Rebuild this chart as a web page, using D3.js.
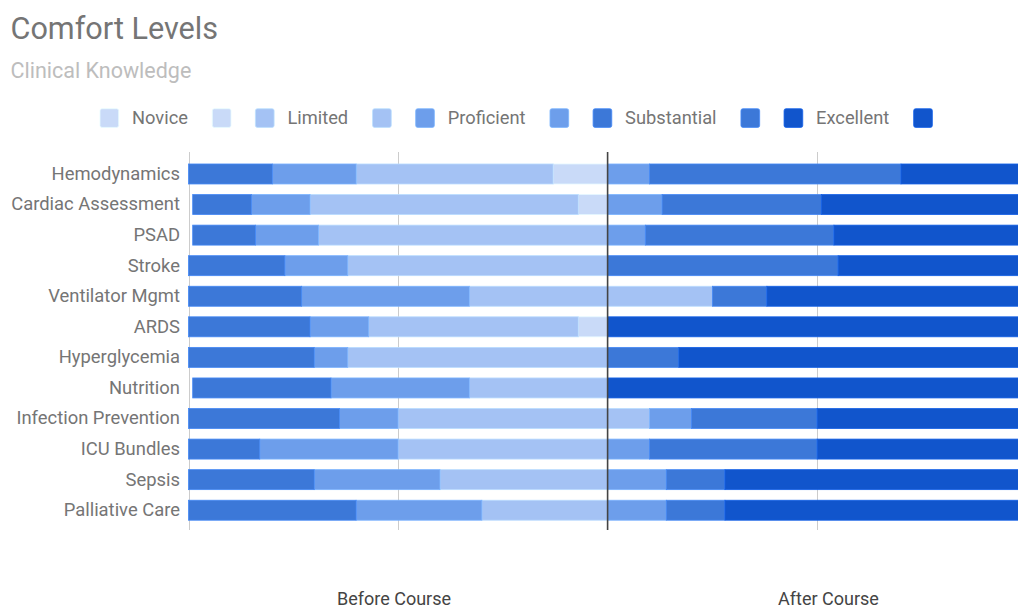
<!DOCTYPE html>
<html>
<head>
<meta charset="utf-8">
<script src="https://cdn.jsdelivr.net/npm/d3@7"></script>
<style>
  html, body { margin: 0; padding: 0; background: #fff; }
  svg { display: block; font-family: Roboto, "Noto Sans", sans-serif; }
</style>
</head>
<body>
<svg id="chart" width="1018" height="610"></svg>
<script>
// ---- Data (percentages) ----
const categories = ["Hemodynamics", "Cardiac Assessment", "PSAD", "Stroke", "Ventilator Mgmt", "ARDS",
  "Hyperglycemia", "Nutrition", "Infection Prevention", "ICU Bundles", "Sepsis", "Palliative Care"];

const levels = ["Novice", "Limited", "Proficient", "Substantial", "Excellent"];

// Before course (drawn to the left of zero)
const beforeNovice      = [13,  7,  0,  0,  0,  7,  0,  0,  0,  0,  0,  0];
const beforeLimited     = [47, 64, 69, 62, 33, 50, 62, 33, 50, 50, 40, 30];
const beforeProficient  = [20, 14, 15, 15, 40, 14,  8, 33, 14, 33, 30, 30];
const beforeSubstantial = [20, 14, 15, 23, 27, 29, 30, 33, 36, 17, 30, 40];
const beforeExcellent   = [ 0,  0,  0,  0,  0,  0,  0,  0,  0,  0,  0,  0];

// After course (drawn to the right of zero)
const afterNovice      = [ 0,  0,  0,  0,  0,  0,  0,  0,  0,  0,  0,  0];
const afterLimited     = [ 0,  0,  0,  0, 25,  0,  0,  0, 10,  0,  0,  0];
const afterProficient  = [10, 13,  9,  0,  0,  0,  0,  0, 10, 10, 14, 14];
const afterSubstantial = [60, 38, 45, 55, 13,  0, 17,  0, 30, 40, 14, 14];
const afterExcellent   = [30, 49, 46, 45, 62,100, 83,100, 50, 50, 72, 72];

const axisLabels = ["Before Course", "After Course"];
const gridTicks = [-100, -50, 50, 100];

const colors = ["#c9daf8", "#a4c2f4", "#6d9eeb", "#3c78d8", "#1155cc"];

const beforeSeries = [beforeNovice, beforeLimited, beforeProficient, beforeSubstantial, beforeExcellent];
const afterSeries  = [afterNovice, afterLimited, afterProficient, afterSubstantial, afterExcellent];

// ---- Layout ----
const svg = d3.select("#chart");
const W = 1018, H = 610;
const plotRight = 1018, plotTop = 152, plotBottom = 530;

const x = d3.scaleLinear().domain([-100, 100]).range([188.5, 1026.7]);
const y = d3.scaleBand().domain(categories).range([158.7, 525.5]).paddingInner(0.346).paddingOuter(0.173);

// Title
svg.append("text").attr("x", 10.5).attr("y", 39).attr("font-size", 30.6).attr("fill", "#757575")
  .text("Comfort Levels");
svg.append("text").attr("x", 10.5).attr("y", 78.3).attr("font-size", 21.5).attr("fill", "#bdbdbd")
  .text("Clinical Knowledge");

// Legend
const legendItems = [];
levels.forEach((l, i) => {
  legendItems.push({ label: l, color: colors[i] });
  legendItems.push({ label: "", color: colors[i] });
});
const lg = svg.append("g");
let lx = 100;
const sw = 18.7, ly = 108.7;
legendItems.forEach(item => {
  lg.append("rect").attr("x", lx).attr("y", ly).attr("width", sw).attr("height", sw)
    .attr("rx", 2).attr("fill", item.color)
    .attr("stroke", d3.color(item.color).brighter(0.4)).attr("stroke-width", 0.8);
  lx += sw;
  if (item.label) {
    const t = lg.append("text").attr("x", lx + 13.3).attr("y", ly + sw / 2).attr("dy", "0.35em")
      .attr("font-size", 18.3).attr("fill", "#757575").text(item.label);
    lx += 13.3 + t.node().getComputedTextLength();
  }
  lx += 24.4;
});

// Clip path for plot area
svg.append("clipPath").attr("id", "plotclip").append("rect")
  .attr("x", 0).attr("y", 0).attr("width", plotRight).attr("height", H);

// Gridlines
const grid = svg.append("g").attr("clip-path", "url(#plotclip)");
grid.selectAll("line.grid").data(gridTicks).join("line")
  .attr("class", "grid")
  .attr("x1", d => Math.round(x(d)) + 0.5).attr("x2", d => Math.round(x(d)) + 0.5)
  .attr("y1", plotTop).attr("y2", plotBottom)
  .attr("stroke", "#cccccc").attr("stroke-width", 1);

// Bars
const segs = [];
categories.forEach((c, i) => {
  let acc = 0;
  beforeSeries.forEach((s, k) => {
    const v = s[i];
    if (v > 0) segs.push({ cat: c, x0: -(acc + v), x1: -acc, color: colors[k] });
    acc += v;
  });
  acc = 0;
  afterSeries.forEach((s, k) => {
    const v = s[i];
    if (v > 0) segs.push({ cat: c, x0: acc, x1: acc + v, color: colors[k] });
    acc += v;
  });
});

svg.append("g").attr("clip-path", "url(#plotclip)")
  .selectAll("rect").data(segs).join("rect")
  .attr("x", d => x(d.x0)).attr("width", d => x(d.x1) - x(d.x0))
  .attr("y", d => y(d.cat)).attr("height", y.bandwidth())
  .attr("fill", d => d.color)
  .attr("stroke", d => d3.color(d.color).brighter(0.35))
  .attr("stroke-width", 0.8);

// Zero baseline
svg.append("line")
  .attr("x1", x(0)).attr("x2", x(0)).attr("y1", plotTop).attr("y2", plotBottom)
  .attr("stroke", "#444").attr("stroke-width", 1.6);

// Category labels (left axis)
const yAxis = d3.axisLeft(y).tickSize(0).tickPadding(0);
const ya = svg.append("g").attr("transform", "translate(180,0)").call(yAxis);
ya.select(".domain").remove();
ya.selectAll("text").attr("font-size", 18.4).attr("fill", "#757575")
  .attr("font-family", "Roboto, 'Noto Sans', sans-serif");

// Bottom labels
const bottomX = [394, 828.5];
svg.selectAll("text.blab").data(axisLabels).join("text")
  .attr("class", "blab")
  .attr("x", (d, i) => bottomX[i]).attr("y", 605)
  .attr("text-anchor", "middle").attr("font-size", 18).attr("fill", "#444")
  .text(d => d);
</script>
</body>
</html>
